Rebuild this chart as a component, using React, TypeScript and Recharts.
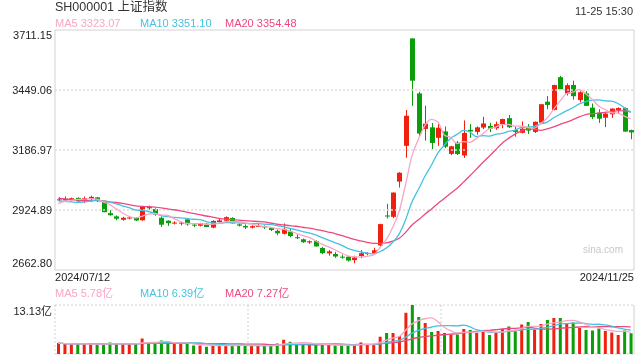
import { ComposedChart, Bar, Line, XAxis, YAxis, Cell, ReferenceLine, CartesianGrid } from 'recharts';

const dates = [
  '2024/07/12', '2024/07/15', '2024/07/16', '2024/07/17', '2024/07/18', '2024/07/19', '2024/07/22', '2024/07/23', '2024/07/24', '2024/07/25',
  '2024/07/26', '2024/07/29', '2024/07/30', '2024/07/31', '2024/08/01', '2024/08/02', '2024/08/05', '2024/08/06', '2024/08/07', '2024/08/08',
  '2024/08/09', '2024/08/12', '2024/08/13', '2024/08/14', '2024/08/15', '2024/08/16', '2024/08/19', '2024/08/20', '2024/08/21', '2024/08/22',
  '2024/08/23', '2024/08/26', '2024/08/27', '2024/08/28', '2024/08/29', '2024/08/30', '2024/09/02', '2024/09/03', '2024/09/04', '2024/09/05',
  '2024/09/06', '2024/09/09', '2024/09/10', '2024/09/11', '2024/09/12', '2024/09/13', '2024/09/18', '2024/09/19', '2024/09/20', '2024/09/23',
  '2024/09/24', '2024/09/25', '2024/09/26', '2024/09/27', '2024/09/30', '2024/10/08', '2024/10/09', '2024/10/10', '2024/10/11', '2024/10/14',
  '2024/10/15', '2024/10/16', '2024/10/17', '2024/10/18', '2024/10/21', '2024/10/22', '2024/10/23', '2024/10/24', '2024/10/25', '2024/10/28',
  '2024/10/29', '2024/10/30', '2024/10/31', '2024/11/01', '2024/11/04', '2024/11/05', '2024/11/06', '2024/11/07', '2024/11/08', '2024/11/11',
  '2024/11/12', '2024/11/13', '2024/11/14', '2024/11/15', '2024/11/18', '2024/11/19', '2024/11/20', '2024/11/21', '2024/11/22', '2024/11/25',
];

const opens = [
  2968, 2967, 2970, 2978, 2962, 2972, 2980, 2960, 2911, 2897,
  2882, 2888, 2890, 2880, 2938, 2929, 2891, 2878, 2866, 2866,
  2884, 2861, 2856, 2865, 2848, 2872, 2878, 2890, 2862, 2855,
  2848, 2852, 2855, 2846, 2834, 2821, 2831, 2806, 2797, 2783,
  2789, 2759, 2735, 2733, 2721, 2721, 2706, 2724, 2733, 2736,
  2770, 2901, 2895, 3049, 3205, 3674.4, 3434, 3279, 3286, 3240,
  3268, 3170, 3219, 3163, 3275, 3266, 3285, 3292, 3282, 3300,
  3326, 3274, 3262, 3288, 3266, 3306, 3398, 3362, 3505, 3434,
  3471, 3405, 3434, 3372, 3350, 3328, 3343, 3362, 3370, 3274,
];

const highs = [
  2981, 2984, 2979, 2980, 2984, 2987, 2982, 2966, 2924, 2901,
  2895, 2898, 2893, 2943, 2944, 2932, 2897, 2880, 2876, 2873,
  2888, 2866, 2869, 2867, 2880, 2887, 2897, 2893, 2866, 2862,
  2858, 2865, 2858, 2850, 2840, 2866, 2842, 2818, 2800, 2792,
  2793, 2764, 2750, 2742, 2730, 2724, 2725, 2750, 2740, 2760,
  2865, 2952, 3002, 3090, 3362, 3674.4, 3441, 3380, 3305, 3300,
  3290, 3205, 3226, 3316, 3300, 3290, 3332, 3306, 3311, 3324,
  3340, 3290, 3312, 3300, 3311, 3387, 3423, 3472, 3511, 3478,
  3490, 3444, 3444, 3390, 3365, 3348, 3368, 3373, 3373, 3276,
];

const lows = [
  2963, 2962, 2962, 2958, 2955, 2960, 2960, 2915, 2900, 2880,
  2878, 2884, 2877, 2878, 2926, 2900, 2851, 2855, 2862, 2858,
  2856, 2850, 2853, 2850, 2845, 2870, 2874, 2866, 2853, 2842,
  2844, 2850, 2842, 2833, 2815, 2818, 2806, 2798, 2781, 2777,
  2765, 2732, 2725, 2716, 2712, 2700, 2692, 2714, 2727, 2734,
  2765, 2888, 2889, 3023, 3153, 3380, 3246, 3228, 3190, 3205,
  3195, 3165, 3165, 3152, 3240, 3254, 3278, 3265, 3275, 3282,
  3283, 3245, 3260, 3257, 3261, 3306, 3365, 3360, 3452, 3425,
  3407, 3395, 3379, 3322, 3305, 3287, 3327, 3346, 3267, 3234,
];

const closes = [
  2971.3, 2974.01, 2976.3, 2962.85, 2977.13, 2982.31, 2964.22, 2915.37, 2901.95, 2886.74,
  2890.9, 2891.85, 2879.3, 2938.75, 2932.39, 2905.34, 2860.7, 2867.28, 2869.9, 2869.83,
  2862.19, 2858.2, 2867.95, 2850.65, 2877.36, 2879.43, 2893.67, 2866.66, 2856.58, 2848.77,
  2854.37, 2855.52, 2848.73, 2837.43, 2823.11, 2842.21, 2811.04, 2802.98, 2784.28, 2788.31,
  2765.81, 2736.49, 2744.19, 2721.8, 2717.12, 2704.09, 2717.28, 2736.02, 2736.81, 2748.92,
  2863.13, 2896.31, 3000.95, 3087.53, 3336.5, 3489.78, 3258.86, 3301.93, 3217.74, 3284.32,
  3201.29, 3202.95, 3169.38, 3261.56, 3268.11, 3285.87, 3302.8, 3280.26, 3299.7, 3322.2,
  3286.41, 3266.24, 3279.82, 3272.01, 3310.21, 3386.99, 3383.81, 3470.66, 3452.3, 3470.07,
  3421.97, 3439.28, 3379.84, 3330.73, 3323.85, 3346.01, 3367.99, 3370.4, 3267.19, 3263.76,
];

// closes of the 19 sessions before the first visible day, for the moving averages
const priorCloses = [
  3015.89, 3030.25, 3018.05, 3005.44, 2998.14, 2963.1, 2950.0, 2972.53, 2945.85, 2967.4,
  2994.73, 2997.01, 2982.38, 2957.57, 2949.93, 2922.45, 2959.37, 2939.36, 2970.39,
];

// volume, 亿
const volumes = [
  2.92, 2.65, 2.65, 2.65, 2.65, 2.65, 2.65, 2.65, 3.1, 2.65,
  2.65, 2.65, 2.65, 4.16, 3.18, 2.84, 3.63, 3.0, 2.65, 2.84,
  2.73, 2.31, 2.31, 1.94, 2.31, 2.31, 2.31, 2.31, 2.31, 2.31,
  2.31, 2.31, 2.12, 2.12, 2.84, 3.79, 3.26, 2.65, 2.65, 2.47,
  2.65, 2.47, 2.47, 2.31, 2.31, 2.31, 2.47, 3.1, 2.65, 2.65,
  4.59, 5.65, 5.65, 4.85, 11.06, 13.13, 9.89, 8.3, 5.91, 6.18,
  5.65, 5.22, 5.22, 6.71, 6.44, 5.65, 6.36, 5.12, 5.65, 6.71,
  7.4, 6.5, 7.9, 8.6, 6.44, 8.03, 9.1, 9.62, 9.62, 8.3,
  8.45, 7.0, 6.4, 6.3, 6.85, 6.18, 5.75, 5.12, 6.3, 5.55,
];

const priceTicks = [2662.8, 2924.89, 3186.97, 3449.06, 3711.15];
const volumeTicks = [0, 13.13];

const RED = '#f0200e';
const GREEN = '#0a9e0a';
const MA5_COLOR = '#f9a6c6';
const MA10_COLOR = '#45c2e2';
const MA20_COLOR = '#ec4a7e';
const FONT = '"Liberation Sans", Arial, "Noto Sans CJK SC", sans-serif';

function movingAvg(values: number[], n: number, prior: number[] = []) {
  const all = [...prior, ...values];
  return values.map((_, i) => {
    const end = prior.length + i + 1;
    const win = all.slice(Math.max(0, end - n), end);
    return win.reduce((a, b) => a + b, 0) / win.length;
  });
}

const ma5 = movingAvg(closes, 5, priorCloses);
const ma10 = movingAvg(closes, 10, priorCloses);
const ma20 = movingAvg(closes, 20, priorCloses);
const vma5 = movingAvg(volumes, 5);
const vma10 = movingAvg(volumes, 10);
const vma20 = movingAvg(volumes, 20);

const rows = dates.map((date, i) => ({
  date,
  open: opens[i],
  high: highs[i],
  low: lows[i],
  close: closes[i],
  volume: volumes[i],
  ma5: ma5[i],
  ma10: ma10[i],
  ma20: ma20[i],
  vma5: vma5[i],
  vma10: vma10[i],
  vma20: vma20[i],
}));

function Candle(props: any) {
  const { x, y, width, height, payload } = props;
  if (x == null || y == null) return null;
  const top = Math.min(y, y + height);
  const h = Math.abs(height);
  const span = payload.high - payload.low;
  const k = span > 0 ? h / span : 0;
  const bodyTop = top + (payload.high - Math.max(payload.open, payload.close)) * k;
  const bodyBottom = top + (payload.high - Math.min(payload.open, payload.close)) * k;
  const color = payload.close >= payload.open ? RED : GREEN;
  const cx = Math.round(x + width / 2) + 0.5;
  return (
    <g>
      <line x1={cx} x2={cx} y1={top} y2={top + h} stroke={color} strokeWidth={1} />
      <rect x={cx - 2.5} y={bodyTop} width={5} height={Math.max(1, bodyBottom - bodyTop)} fill={color} />
    </g>
  );
}

function PriceTick(props: any) {
  const { x, y, payload } = props;
  const v = payload.value;
  let off = 0;
  if (v === priceTicks[priceTicks.length - 1]) off = 5;
  if (v === priceTicks[0]) off = -7;
  return (
    <text x={x} y={y + off + 4} textAnchor="end" fontSize={11} fill="#222">
      {Number(v).toFixed(2)}
    </text>
  );
}

function VolumeTick(props: any) {
  const { x, y, payload } = props;
  const v = payload.value;
  const isTop = v === volumeTicks[volumeTicks.length - 1];
  return (
    <text x={x} y={y + (isTop ? 6 : -6) + 4} textAnchor="end" fontSize={11} fill="#222">
      {v === 0 ? '0' : `${v.toFixed(2)}亿`}
    </text>
  );
}

function DateTick(props: any) {
  const { x, y, payload } = props;
  const isFirst = payload.value === dates[0];
  return (
    <text x={isFirst ? x - 3.2 : x + 3.2} y={y + 11} textAnchor={isFirst ? 'start' : 'end'} fontSize={11} fill="#222">
      {payload.value}
    </text>
  );
}

const label = (left: number, top: number, color: string, size: number, text: string, right = false) => (
  <div
    style={{
      position: 'absolute',
      top,
      ...(right ? { right: 640 - left } : { left }),
      color,
      fontSize: size,
      lineHeight: `${size + 2}px`,
      whiteSpace: 'nowrap',
    }}
  >
    {text}
  </div>
);

export default function App() {
  const last = rows.length - 1;
  return (
    <div style={{ position: 'fixed', left: 0, top: 0, width: 640, height: 360, background: '#fff', fontFamily: FONT }}>
      {label(55, 0, '#333', 12.5, 'SH000001 上证指数')}
      {label(633, 5, '#333', 11, '11-25 15:30', true)}
      {label(55, 17, MA5_COLOR, 11, `MA5 ${ma5[last].toFixed(2)}`)}
      {label(140, 17, MA10_COLOR, 11, `MA10 ${ma10[last].toFixed(2)}`)}
      {label(225, 17, MA20_COLOR, 11, `MA20 ${ma20[last].toFixed(2)}`)}

      <div style={{ position: 'absolute', left: 0, top: 0 }}>
        <ComposedChart width={640} height={290} data={rows} margin={{ top: 30, right: 6, bottom: 0, left: 0 }}>
          <CartesianGrid stroke="#d2d2d2" horizontalPoints={[30, 270]} verticalPoints={[55, 634]} />
          <XAxis
            dataKey="date"
            ticks={[dates[0], dates[last]]}
            interval={0}
            tick={<DateTick />}
            axisLine={false}
            tickLine={false}
            tickSize={0}
            tickMargin={0}
            height={20}
          />
          <YAxis
            domain={[priceTicks[0], priceTicks[priceTicks.length - 1]]}
            ticks={priceTicks}
            tick={<PriceTick />}
            axisLine={false}
            tickLine={false}
            tickSize={0}
            tickMargin={3}
            width={55}
            allowDataOverflow
          />
          {priceTicks.slice(1, -1).map((t) => (
            <ReferenceLine key={t} y={t} stroke="#dcdcdc" strokeDasharray="2 2" strokeWidth={1.5} />
          ))}
          <Bar dataKey={(d: any) => [d.low, d.high]} shape={<Candle />} barSize={5} isAnimationActive={false} />
          <Line type="monotone" dataKey="ma20" stroke={MA20_COLOR} strokeWidth={1.3} dot={false} isAnimationActive={false} />
          <Line type="monotone" dataKey="ma10" stroke={MA10_COLOR} strokeWidth={1.3} dot={false} isAnimationActive={false} />
          <Line type="monotone" dataKey="ma5" stroke={MA5_COLOR} strokeWidth={1.3} dot={false} isAnimationActive={false} />
        </ComposedChart>
      </div>

      {label(623, 244, '#c8c8c8', 10, 'sina.com', true)}

      {label(55, 287, MA5_COLOR, 11, `MA5 ${vma5[last].toFixed(2)}亿`)}
      {label(140, 287, MA10_COLOR, 11, `MA10 ${vma10[last].toFixed(2)}亿`)}
      {label(225, 287, MA20_COLOR, 11, `MA20 ${vma20[last].toFixed(2)}亿`)}

      <div style={{ position: 'absolute', left: 0, top: 290 }}>
        <ComposedChart width={640} height={70} data={rows} margin={{ top: 15, right: 6, bottom: 6, left: 0 }}>
          <CartesianGrid stroke="#d0d0d0" strokeDasharray="2 2" horizontalPoints={[15, 64]} verticalPoints={[55, 248, 441]} />
          <CartesianGrid stroke="#d0d0d0" horizontal={false} verticalPoints={[634]} />
          <XAxis dataKey="date" hide />
          <YAxis
            domain={[0, 13.13]}
            ticks={volumeTicks}
            tick={<VolumeTick />}
            axisLine={false}
            tickLine={false}
            tickSize={0}
            tickMargin={3}
            width={55}
            allowDataOverflow
          />
          <Bar dataKey="volume" barSize={3} isAnimationActive={false}>
            {rows.map((r, i) => (
              <Cell key={i} fill={r.close >= r.open ? RED : GREEN} />
            ))}
          </Bar>
          <Line type="monotone" dataKey="vma20" stroke={MA20_COLOR} strokeWidth={1.3} dot={false} isAnimationActive={false} />
          <Line type="monotone" dataKey="vma10" stroke={MA10_COLOR} strokeWidth={1.3} dot={false} isAnimationActive={false} />
          <Line type="monotone" dataKey="vma5" stroke={MA5_COLOR} strokeWidth={1.3} dot={false} isAnimationActive={false} />
        </ComposedChart>
      </div>
    </div>
  );
}
